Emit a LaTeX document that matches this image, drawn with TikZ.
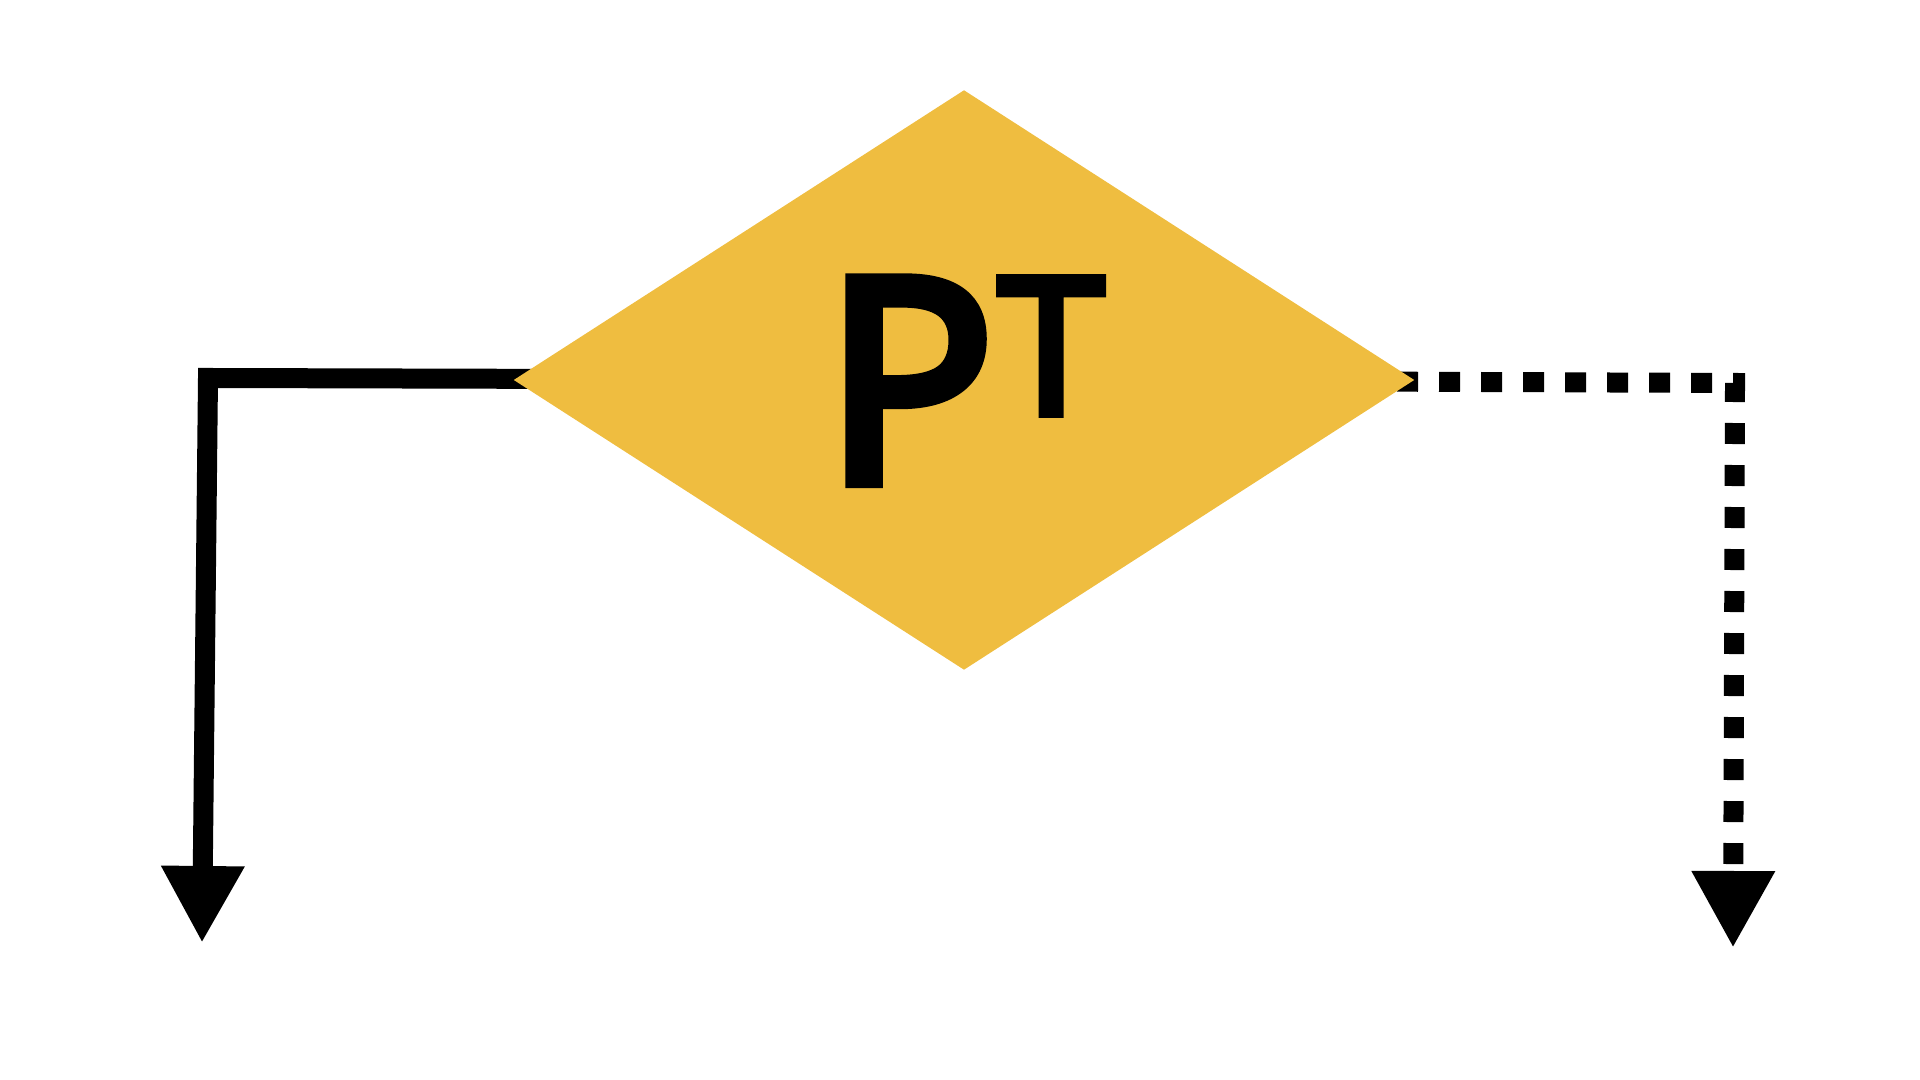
\documentclass[tikz,border=0pt]{standalone}
\usepackage{fontspec}
\setmainfont{Open Sans}
\newfontfamily\halbfett{Open Sans}[FakeBold=5]
\usetikzlibrary{shapes.geometric,arrows.meta,backgrounds}
\definecolor{gold}{RGB}{239,189,64}
\begin{document}
\begin{tikzpicture}
			\tikzset{raute/.style={diamond, fill=gold, aspect=1.553, minimum width=9.01cm, minimum height=5.8cm, inner sep=0},
			pfeil/.style={line width=0.2cm, -{Triangle[length=7.7mm,width=7.8mm]}}}
\useasboundingbox (0,0) rectangle (19.2,10.8);

\node[raute] at (9.64, 7.0) (pt) {\fontsize{80}{80}\halbfett P\kern0.05cm\raisebox{0.68cm}{\fontsize{53.5}{53.5}\selectfont T}};
\coordinate (ka) at (2.08, 7.02);
\coordinate (ea) at (2.02, 1.37);
\coordinate (kb) at (17.35, 6.97);
\coordinate (eb) at (17.33, 1.32);
			\begin{pgfonlayer}{background}
			\draw [pfeil] (pt.center) -- (ka) -- (ea);
			\draw [pfeil, dash pattern=on 0.21cm off 0.21cm, dash phase=0.29cm] (pt.center) -- (kb) -- (eb);
			\end{pgfonlayer}
		\end{tikzpicture}
\end{document}
